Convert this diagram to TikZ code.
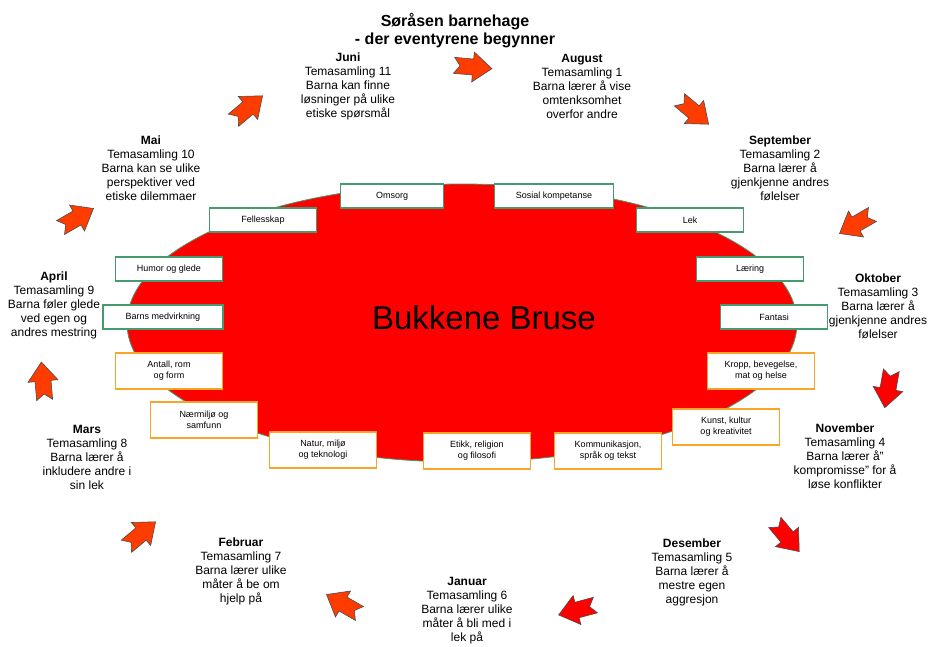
\documentclass[tikz,border=0pt]{standalone}
\usepackage{fontspec}
\setmainfont{Liberation Sans}

\definecolor{kompgreen}{RGB}{70,155,110}
\definecolor{fagorange}{RGB}{250,165,40}
\definecolor{pilorange}{RGB}{255,60,0}
\definecolor{pilred}{RGB}{255,0,0}

\tikzset{
    maaned/.style={align=center, font=\fontsize{12}{14}\selectfont, inner sep=0pt},
    kompboks/.style={draw=kompgreen, line width=1.4pt, fill=white, minimum width=107pt,
        minimum height=24pt, inner sep=2pt, align=center, font=\fontsize{9}{11}\selectfont},
    fagboks/.style={kompboks, draw=fagorange, minimum height=36pt},
    pil/.pic={\path[pic actions] (19,0) -- (0,15) -- (0,8) -- (-19,8) -- (-13,0)
        -- (-19,-8) -- (0,-8) -- (0,-15) -- cycle;},
    pilstil/.style={fill=#1, draw=black!70, line width=0.6pt}
}

\begin{document}
\begin{tikzpicture}[x=1pt, y=-1pt]
    \useasboundingbox (0,0) rectangle (928,646);

    % Title
    \node[align=center, font=\fontsize{16}{18}\selectfont\bfseries] (tittel) at (455,31)
        {Søråsen barnehage\\- der eventyrene begynner};

    % Centre
    \draw[kompgreen, fill=red, line width=0.8pt] (462,323) ellipse [x radius=335, y radius=139];
    \node[font=\fontsize{33}{36}\selectfont] (sentrum) at (484,318) {Bukkene Bruse};

    % Competence boxes (green)
    \node[kompboks, minimum width=103pt] (omsorg) at (392,196) {Omsorg};
    \node[kompboks, minimum width=119pt] (sosial) at (554,196) {Sosial kompetanse};
    \node[kompboks] (fellesskap) at (263,220) {Fellesskap};
    \node[kompboks] (lek) at (690,220) {Lek};
    \node[kompboks] (humor) at (169,269) {Humor og glede};
    \node[kompboks] (laering) at (750,269) {Læring};
    \node[kompboks, minimum width=120pt] (medvirkning) at (163,317) {Barns medvirkning};
    \node[kompboks] (fantasi) at (774,317) {Fantasi};

    % Subject boxes (orange)
    \node[fagboks] (antall) at (169,371) {Antall, rom\\og form};
    \node[fagboks] (kropp) at (761,371) {Kropp, bevegelse,\\mat og helse};
    \node[fagboks] (naermiljo) at (204,420) {Nærmiljø og\\samfunn};
    \node[fagboks] (kunst) at (726,427) {Kunst, kultur\\og kreativitet};
    \node[fagboks] (natur) at (323,450) {Natur, miljø\\og teknologi};
    \node[fagboks] (etikk) at (477,451) {Etikk, religion\\og filosofi};
    \node[fagboks] (kommunikasjon) at (608,451) {Kommunikasjon,\\språk og tekst};

    % Months
    \node[maaned] (juni) at (348,86) {\textbf{Juni}\\Temasamling 11\\Barna kan finne\\løsninger på ulike\\etiske spørsmål};
    \node[maaned] (august) at (582,86) {\textbf{August}\\Temasamling 1\\Barna lærer å vise\\omtenksomhet\\overfor andre};
    \node[maaned] (september) at (780,168) {\textbf{September}\\Temasamling 2\\Barna lærer å\\gjenkjenne andres\\følelser};
    \node[maaned] (oktober) at (878,306) {\textbf{Oktober}\\Temasamling 3\\Barna lærer å\\gjenkjenne andres\\følelser};
    \node[maaned] (november) at (845,456) {\textbf{November}\\Temasamling 4\\Barna lærer å”\\kompromisse” for å\\løse konflikter};
    \node[maaned] (desember) at (692,572) {\textbf{Desember}\\Temasamling 5\\Barna lærer å\\mestre egen\\aggresjon};
    \node[maaned] (januar) at (467,611) {\textbf{Januar}\\Temasamling 6\\Barna lærer ulike\\måter å bli med i\\lek på};
    \node[maaned] (februar) at (241,571) {\textbf{Februar}\\Temasamling 7\\Barna lærer ulike\\måter å be om\\hjelp på};
    \node[maaned] (mars) at (87,457) {\textbf{Mars}\\Temasamling 8\\Barna lærer å\\inkludere andre i\\sin lek};
    \node[maaned] (april) at (54,305) {\textbf{April}\\Temasamling 9\\Barna føler glede\\ved egen og\\andres mestring};
    \node[maaned] (mai) at (151,168) {\textbf{Mai}\\Temasamling 10\\Barna kan se ulike\\perspektiver ved\\etiske dilemmaer};

    % Arrows between months
    \pic[pilstil=pilorange, rotate=-5] at (473,67) {pil};
    \pic[pilstil=pilorange, rotate=-40] at (694,112) {pil};
    \pic[pilstil=pilorange, rotate=-150] at (856,224) {pil};
    \pic[pilstil=pilred, rotate=-100] at (888,389) {pil};
    \pic[pilstil=pilred, rotate=-50] at (787,537) {pil};
    \pic[pilstil=pilred, rotate=-165] at (577,610) {pil};
    \pic[pilstil=pilorange, rotate=150] at (343,604) {pil};
    \pic[pilstil=pilorange, rotate=40] at (141,534) {pil};
    \pic[pilstil=pilorange, rotate=95] at (43,381) {pil};
    \pic[pilstil=pilorange, rotate=30] at (77,218) {pil};
    \pic[pilstil=pilorange, rotate=40] at (248,108) {pil};
\end{tikzpicture}
\end{document}
